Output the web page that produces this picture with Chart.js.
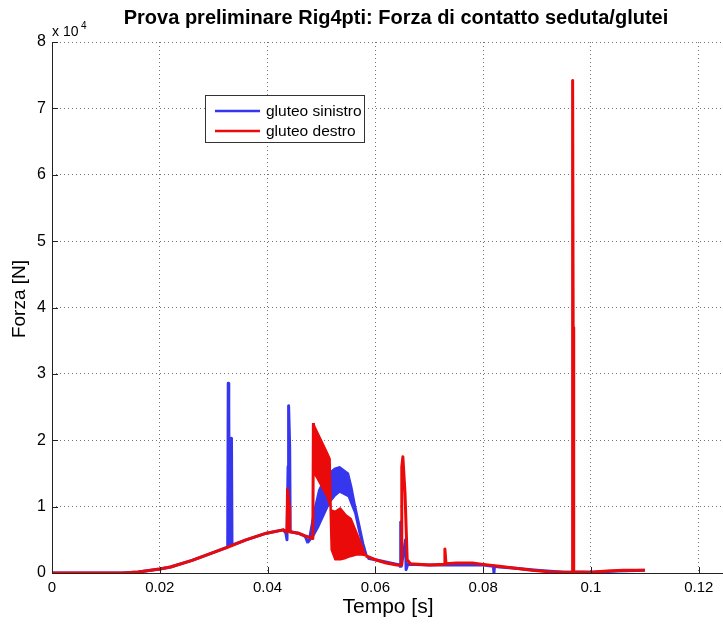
<!DOCTYPE html>
<html>
<head>
<meta charset="utf-8">
<script src="https://cdn.jsdelivr.net/npm/chart.js@4/dist/chart.umd.min.js"></script>
<style>
  html, body { margin: 0; padding: 0; background: #fff; }
  canvas { display: block; }
</style>
</head>
<body>
<canvas id="forceChart" width="723" height="624"></canvas>
<script>
// values are in units of 10^4 N, time in s
const xTicks = [0, 0.02, 0.04, 0.06, 0.08, 0.1, 0.12];
const yTicks = [0, 1, 2, 3, 4, 5, 6, 7, 8];

// gluteo sinistro (blue) - main trace
const blueT = [0, 0.013, 0.016, 0.02, 0.022, 0.026, 0.03, 0.0326, 0.0327, 0.0328, 0.0329, 0.0331, 0.0333, 0.0334,
  0.036, 0.0398, 0.0429, 0.0434, 0.0436, 0.0438, 0.0439, 0.0441, 0.0442, 0.0457, 0.047, 0.0475, 0.0476,
  0.0586, 0.06, 0.0645, 0.0646, 0.0647, 0.0648, 0.0656, 0.0657, 0.066, 0.07, 0.08, 0.0819, 0.082, 0.0821,
  0.083, 0.086, 0.09, 0.095, 0.1, 0.105, 0.11];
const blueF = [0, 0, 0.015, 0.06, 0.09, 0.19, 0.31, 0.39, 2.86, 2.5, 0.42, 1.2, 2.03, 0.42,
  0.5, 0.6, 0.65, 0.6, 0.5, 1.6, 2.52, 1.9, 0.62, 0.6, 0.55, 0.45, null,
  0.22, 0.2, 0.12, 0.1, 0.77, 0.1, 0.5, 0.05, 0.13, 0.12, 0.12, 0.1, 0.0, 0.1,
  0.09, 0.07, 0.04, 0.01, 0.01, 0.03, 0.04];

// blue oscillating band (envelopes)
const blueBandT  = [0.0475, 0.0485, 0.0495, 0.0505, 0.0516, 0.0525, 0.0534, 0.055, 0.0556, 0.0562, 0.0570, 0.0578, 0.0586];
const blueBandHi = [0.45, 0.9, 1.25, 1.42, 1.52, 1.58, 1.6, 1.5, 1.3, 1.05, 0.75, 0.45, 0.22];
const blueBandLo = [0.45, 0.55, 0.7, 0.88, 1.07, 1.16, 1.22, 1.15, 1.02, 0.9, 0.6, 0.35, 0.22];

// gluteo destro (red) - main trace
const redT = [0, 0.013, 0.016, 0.02, 0.022, 0.026, 0.03, 0.033, 0.036, 0.0398, 0.0429, 0.0436, 0.0437,
  0.044, 0.0441, 0.0457, 0.047, 0.0484, 0.0485, 0.0486,
  0.0582, 0.06, 0.062, 0.064, 0.0648, 0.0649, 0.0651, 0.0655, 0.0659, 0.0665, 0.07, 0.0728, 0.0729,
  0.0731, 0.075, 0.078, 0.08, 0.083, 0.086, 0.089, 0.092, 0.095, 0.0965, 0.0966, 0.0967, 0.0968,
  0.1, 0.103, 0.106, 0.11];
const redF = [0, 0, 0.015, 0.06, 0.09, 0.19, 0.31, 0.4, 0.5, 0.6, 0.65, 0.62, 1.26,
  1.0, 0.62, 0.6, 0.56, 0.52, 2.26, null,
  0.26, 0.2, 0.15, 0.12, 0.12, 1.6, 1.75, 1.2, 0.2, 0.14, 0.12, 0.13, 0.36,
  0.14, 0.15, 0.15, 0.13, 0.1, 0.07, 0.04, 0.02, 0.01, 0.01, 7.42, 3.7, 0.02,
  0.01, 0.03, 0.04, 0.04];

// red oscillating band (envelopes)
const redBandT  = [0.0485, 0.049, 0.05, 0.051, 0.0516, 0.0518, 0.0525, 0.0535, 0.0545, 0.0555, 0.0565, 0.0575, 0.0582];
const redBandHi = [2.26, 2.17, 2.0, 1.83, 1.72, 0.95, 0.93, 0.98, 0.88, 0.82, 0.62, 0.42, 0.26];
const redBandLo = [1.5, 1.45, 1.3, 1.15, 1.0, 0.35, 0.2, 0.2, 0.22, 0.25, 0.27, 0.27, 0.26];

const BLUE = '#3636ee';
const RED = '#eb0a0a';
const FONT = '"Liberation Sans", Arial, Helvetica, sans-serif';

function pts(t, v) {
    return t.map((x, i) => ({x: x, y: v[i]}));
}

const annotations = {
    id: 'matlabDecor',
    afterDraw(chart) {
        const ctx = chart.ctx;
        const a = chart.chartArea;
        const xs = chart.scales.x;
        const ys = chart.scales.y;
        ctx.save();

        // axis lines + inward ticks
        ctx.strokeStyle = '#222';
        ctx.lineWidth = 1;
        ctx.beginPath();
        ctx.moveTo(a.left + 0.5, a.top);
        ctx.lineTo(a.left + 0.5, a.bottom + 0.5);
        ctx.lineTo(a.right, a.bottom + 0.5);
        xTicks.forEach(v => {
            const px = Math.round(xs.getPixelForValue(v)) + 0.5;
            ctx.moveTo(px, a.bottom);
            ctx.lineTo(px, a.bottom - 6);
        });
        yTicks.forEach(v => {
            const py = Math.round(ys.getPixelForValue(v)) + 0.5;
            ctx.moveTo(a.left, py);
            ctx.lineTo(a.left + 6, py);
        });
        ctx.stroke();

        // title
        ctx.fillStyle = '#000';
        ctx.textAlign = 'center';
        ctx.textBaseline = 'middle';
        ctx.font = 'bold 20px ' + FONT;
        ctx.fillText('Prova preliminare Rig4pti: Forza di contatto seduta/glutei', 396, 18);

        // exponent
        ctx.textAlign = 'left';
        ctx.font = '14px ' + FONT;
        ctx.fillText('x 10', 52, 32);
        ctx.font = '10px ' + FONT;
        ctx.fillText('4', 81, 26);

        // axis titles
        ctx.textAlign = 'center';
        ctx.font = '21px ' + FONT;
        ctx.fillText('Tempo [s]', 388, 607);
        ctx.save();
        ctx.translate(20, 299);
        ctx.rotate(-Math.PI / 2);
        ctx.font = '19px ' + FONT;
        ctx.fillText('Forza [N]', 0, 0);
        ctx.restore();

        // legend box
        ctx.fillStyle = '#fff';
        ctx.fillRect(206, 96, 159, 47);
        ctx.strokeStyle = '#333';
        ctx.lineWidth = 1;
        ctx.strokeRect(205.5, 95.5, 159, 47);
        const items = [['gluteo sinistro', BLUE, 111], ['gluteo destro', RED, 131]];
        ctx.font = '15.5px ' + FONT;
        ctx.textAlign = 'left';
        items.forEach(([label, color, y]) => {
            ctx.strokeStyle = color;
            ctx.lineWidth = 2.5;
            ctx.beginPath();
            ctx.moveTo(215, y);
            ctx.lineTo(260, y);
            ctx.stroke();
            ctx.fillStyle = '#000';
            ctx.fillText(label, 266, y + 1);
        });

        ctx.restore();
    }
};

const forceChartCtx = document.getElementById('forceChart').getContext('2d');
new Chart(forceChartCtx, {
    type: 'line',
    data: {
        datasets: [{
            label: 'gluteo sinistro',
            data: pts(blueT, blueF),
            borderColor: BLUE,
            borderWidth: 3,
            spanGaps: false,
            order: 4
        }, {
            label: 'band sx hi',
            data: pts(blueBandT, blueBandHi),
            borderColor: BLUE,
            borderWidth: 1.5,
            fill: false,
            order: 5
        }, {
            label: 'band sx lo',
            data: pts(blueBandT, blueBandLo),
            borderColor: BLUE,
            backgroundColor: BLUE,
            borderWidth: 1.5,
            fill: '-1',
            order: 5
        }, {
            label: 'gluteo destro',
            data: pts(redT, redF),
            borderColor: RED,
            borderWidth: 3,
            spanGaps: false,
            order: 2
        }, {
            label: 'band dx hi',
            data: pts(redBandT, redBandHi),
            borderColor: RED,
            borderWidth: 1.5,
            fill: false,
            order: 3
        }, {
            label: 'band dx lo',
            data: pts(redBandT, redBandLo),
            borderColor: RED,
            backgroundColor: RED,
            borderWidth: 1.5,
            fill: '-1',
            order: 3
        }]
    },
    options: {
        responsive: false,
        animation: false,
        parsing: false,
        elements: {
            point: { radius: 0, hoverRadius: 0 },
            line: { tension: 0, borderJoinStyle: 'round' }
        },
        layout: {
            padding: { top: 42, left: 0, right: 0, bottom: 0 }
        },
        plugins: {
            legend: { display: false },
            title: { display: false },
            tooltip: { enabled: false }
        },
        scales: {
            x: {
                type: 'linear',
                min: 0,
                max: 0.1245,
                afterFit(scale) { scale.height = 51; },
                afterBuildTicks(scale) { scale.ticks = xTicks.map(v => ({value: v})); },
                ticks: {
                    color: '#000',
                    padding: 6,
                    maxRotation: 0,
                    font: { family: FONT, size: 15 },
                    callback: v => String(v)
                },
                grid: {
                    color: 'rgba(0,0,0,0.55)',
                    drawTicks: false,
                    lineWidth: 1
                },
                border: { display: false, dash: [1, 3] }
            },
            y: {
                type: 'linear',
                min: 0,
                max: 8,
                afterFit(scale) { scale.width = 52; },
                afterBuildTicks(scale) { scale.ticks = yTicks.map(v => ({value: v})); },
                ticks: {
                    color: '#000',
                    padding: 6,
                    font: { family: FONT, size: 16 },
                    callback: v => String(v)
                },
                grid: {
                    color: 'rgba(0,0,0,0.55)',
                    drawTicks: false,
                    lineWidth: 1
                },
                border: { display: false, dash: [1, 3] }
            }
        }
    },
    plugins: [annotations]
});
</script>
</body>
</html>
